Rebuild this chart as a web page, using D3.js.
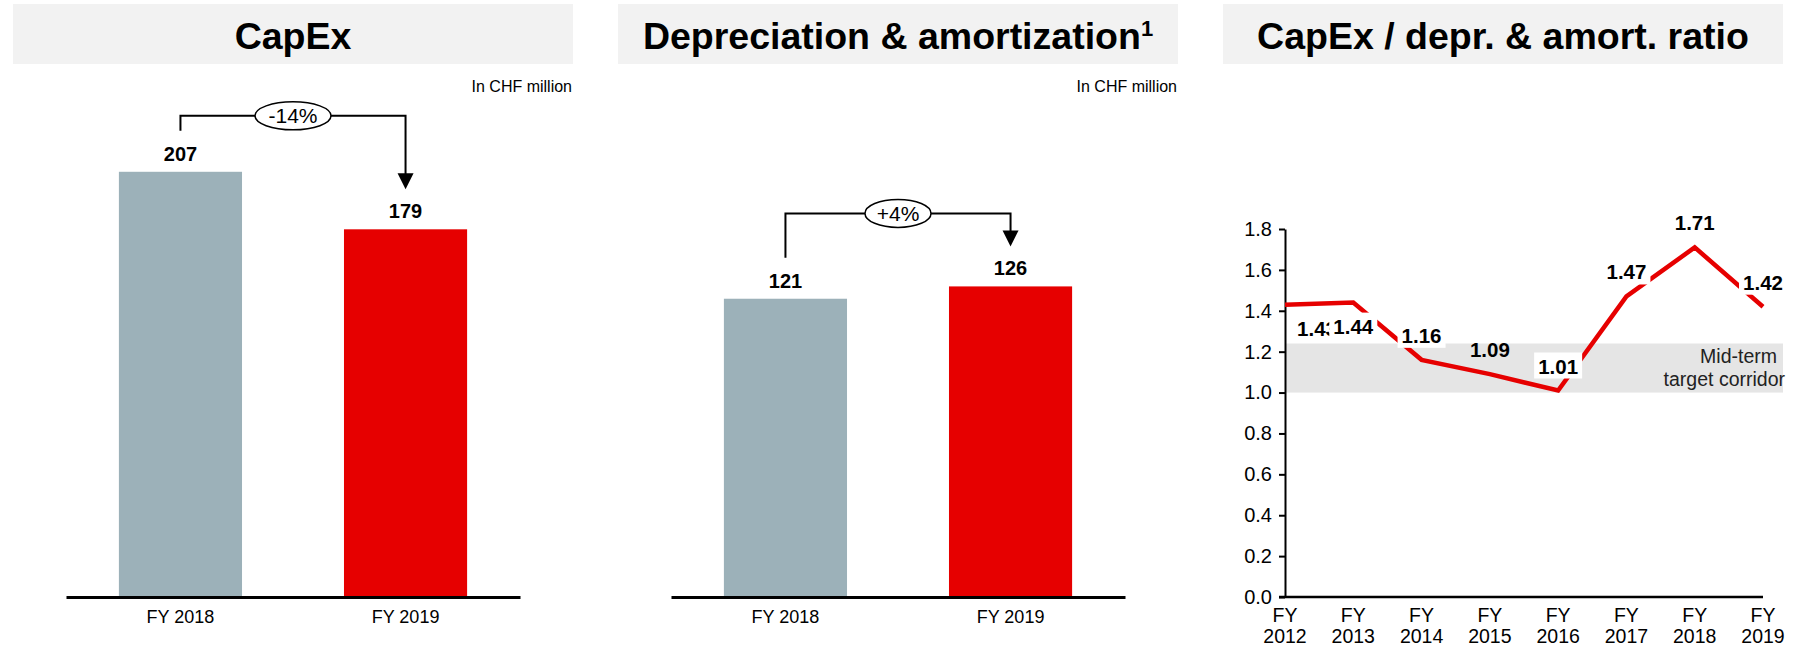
<!DOCTYPE html>
<html>
<head>
<meta charset="utf-8">
<script src="https://cdn.jsdelivr.net/npm/d3@7"></script>
<style>
  body { margin: 0; background: #fff; }
  svg { display: block; font-family: "Liberation Sans", Arial, sans-serif; }
</style>
</head>
<body>
<svg id="chart" width="1799" height="647"></svg>
<script>
// ---- data ----
const barCategories = ["FY 2018", "FY 2019"];
const capexValues = [207, 179];
const deprValues = [121, 126];
const capexChange = "-14%";
const deprChange = "+4%";

const ratioYears = ["2012", "2013", "2014", "2015", "2016", "2017", "2018", "2019"];
const ratioValues = [1.43, 1.44, 1.16, 1.09, 1.01, 1.47, 1.71, 1.42];
const ratioTicks = [0, 0.2, 0.4, 0.6, 0.8, 1.0, 1.2, 1.4, 1.6, 1.8];
const corridorRange = [1.0, 1.24];
const corridorText = ["Mid-term", "target corridor"];

const unitText = "In CHF million";
const barColors = ["#9cb1b9", "#e60000"];
const lineColor = "#e60000";

const svg = d3.select("#chart");

// title boxes
function drawTitle(x0, text, sup) {
    svg.append("rect")
        .attr("x", x0).attr("y", 4)
        .attr("width", 560).attr("height", 60)
        .attr("fill", "#f2f2f2");
    const t = svg.append("text")
        .attr("x", x0 + 280).attr("y", 49)
        .attr("text-anchor", "middle")
        .attr("font-size", 37.5).attr("font-weight", "bold")
        .text(text);
    if (sup) {
        t.append("tspan").attr("font-size", 22).attr("dy", -13).text(sup);
    }
}
drawTitle(13, "CapEx");
drawTitle(618, "Depreciation & amortization", "1");
drawTitle(1223, "CapEx / depr. & amort. ratio");

// bar panels
function drawBars(x0, values, yMax, change, lift) {
    const g = svg.append("g").attr("transform", `translate(${x0},0)`);

    const x = d3.scaleBand()
        .domain(barCategories)
        .range([66, 520])
        .paddingInner(0.453)
        .paddingOuter(0.235);
    const y = d3.scaleLinear().domain([0, yMax]).range([597, 104]);

    g.append("text")
        .attr("x", 572).attr("y", 92)
        .attr("text-anchor", "end")
        .attr("font-size", 16)
        .text(unitText);

    g.selectAll("rect.bar")
        .data(values)
        .enter()
        .append("rect")
        .attr("class", "bar")
        .attr("x", (d, i) => x(barCategories[i]))
        .attr("y", d => y(d))
        .attr("width", x.bandwidth())
        .attr("height", d => y(0) - y(d))
        .attr("fill", (d, i) => barColors[i]);

    g.selectAll("text.val")
        .data(values)
        .enter()
        .append("text")
        .attr("class", "val")
        .attr("x", (d, i) => x(barCategories[i]) + x.bandwidth() / 2)
        .attr("y", d => y(d) - 11)
        .attr("text-anchor", "middle")
        .attr("font-size", 20).attr("font-weight", "bold")
        .text(d => d);

    // baseline + category labels
    const axis = g.append("g")
        .attr("transform", `translate(0,${y(0)})`)
        .call(d3.axisBottom(x).tickSize(0).tickSizeOuter(0).tickPadding(10));
    axis.select(".domain").attr("stroke", "#000").attr("stroke-width", 3);
    axis.selectAll(".tick text")
        .attr("font-size", 18)
        .attr("font-family", "Liberation Sans, Arial, sans-serif")
        .attr("fill", "#000")
        .attr("dy", "0.9em");

    // change bracket
    const cx0 = x(barCategories[0]) + x.bandwidth() / 2;
    const cx1 = x(barCategories[1]) + x.bandwidth() / 2;
    const top = y(d3.max(values)) - lift;
    const leftEnd = y(values[0]) - 41;
    const tip = y(values[1]) - 40;
    g.append("path")
        .attr("d", `M${cx0},${leftEnd}V${top}H${cx1}V${tip - 14}`)
        .attr("fill", "none").attr("stroke", "#000").attr("stroke-width", 2);
    g.append("path")
        .attr("d", `M${cx1 - 8},${tip - 16}L${cx1 + 8},${tip - 16}L${cx1},${tip}Z`)
        .attr("fill", "#000");
    const mid = (cx0 + cx1) / 2;
    g.append("ellipse")
        .attr("cx", mid).attr("cy", top)
        .attr("rx", change.length > 3 ? 38 : 33).attr("ry", 14)
        .attr("fill", "#fff").attr("stroke", "#000").attr("stroke-width", 1.5);
    g.append("text")
        .attr("x", mid).attr("y", top + 7.5)
        .attr("text-anchor", "middle")
        .attr("font-size", 21)
        .text(change);
}
drawBars(0, capexValues, 240, capexChange, 56);
drawBars(605, deprValues, 200, deprChange, 73);

// ratio line chart
const lx = d3.scalePoint().domain(ratioYears).range([1285, 1763]);
const ly = d3.scaleLinear().domain([0, 1.8]).range([597, 229]);

svg.append("rect")
    .attr("x", lx(ratioYears[0]))
    .attr("y", ly(corridorRange[1]))
    .attr("width", 1783 - lx(ratioYears[0]))
    .attr("height", ly(corridorRange[0]) - ly(corridorRange[1]))
    .attr("fill", "#e5e5e5");

svg.append("text")
    .attr("x", 1777).attr("y", 363)
    .attr("text-anchor", "end").attr("font-size", 19.5).attr("fill", "#222")
    .text(corridorText[0]);
svg.append("text")
    .attr("x", 1785).attr("y", 386)
    .attr("text-anchor", "end").attr("font-size", 19.5).attr("fill", "#222")
    .text(corridorText[1]);

const yAxis = svg.append("g")
    .attr("transform", `translate(${lx(ratioYears[0])},0)`)
    .call(d3.axisLeft(ly).tickValues(ratioTicks).tickFormat(d3.format(".1f"))
        .tickSize(6).tickSizeOuter(0).tickPadding(7));
yAxis.select(".domain").attr("stroke", "#000").attr("stroke-width", 2);
yAxis.selectAll(".tick line").attr("stroke", "#000").attr("stroke-width", 2);
yAxis.selectAll(".tick text")
    .attr("font-size", 20).attr("fill", "#000")
    .attr("font-family", "Liberation Sans, Arial, sans-serif");

svg.append("line")
    .attr("x1", lx(ratioYears[0]) - 6).attr("x2", lx(ratioYears[ratioYears.length - 1]))
    .attr("y1", ly(0)).attr("y2", ly(0))
    .attr("stroke", "#000").attr("stroke-width", 2.5);

const xLabels = svg.append("g").selectAll("text")
    .data(ratioYears)
    .enter()
    .append("text")
    .attr("x", d => lx(d))
    .attr("text-anchor", "middle")
    .attr("font-size", 19.5);
xLabels.append("tspan").attr("x", d => lx(d)).attr("y", 622).text("FY");
xLabels.append("tspan").attr("x", d => lx(d)).attr("y", 643).text(d => d);

const line = d3.line()
    .x((d, i) => lx(ratioYears[i]))
    .y(d => ly(d));
svg.append("path")
    .datum(ratioValues)
    .attr("d", line)
    .attr("fill", "none")
    .attr("stroke", lineColor)
    .attr("stroke-width", 4.5)
    .attr("stroke-linejoin", "miter");

// data labels: first two sit below the line, the rest above
const fmt = d3.format(".2f");
const labelDx = [32, 0, 0, 0, 0, 0, 0, 0];
const labelBox = [false, true, true, false, true, true, false, true];
const labels = svg.append("g").selectAll("g")
    .data(ratioValues)
    .enter()
    .append("g")
    .attr("transform", (d, i) => {
        const by = i < 2 ? ly(d) + 31 : ly(d) - 17;
        return `translate(${lx(ratioYears[i]) + labelDx[i]},${by})`;
    });
labels.filter((d, i) => labelBox[i])
    .append("rect")
    .attr("x", -24).attr("y", -21)
    .attr("width", 48).attr("height", 26)
    .attr("fill", "#fff");
labels.append("text")
    .attr("text-anchor", "middle")
    .attr("font-size", 20.5).attr("font-weight", "bold")
    .text(d => fmt(d));
</script>
</body>
</html>
